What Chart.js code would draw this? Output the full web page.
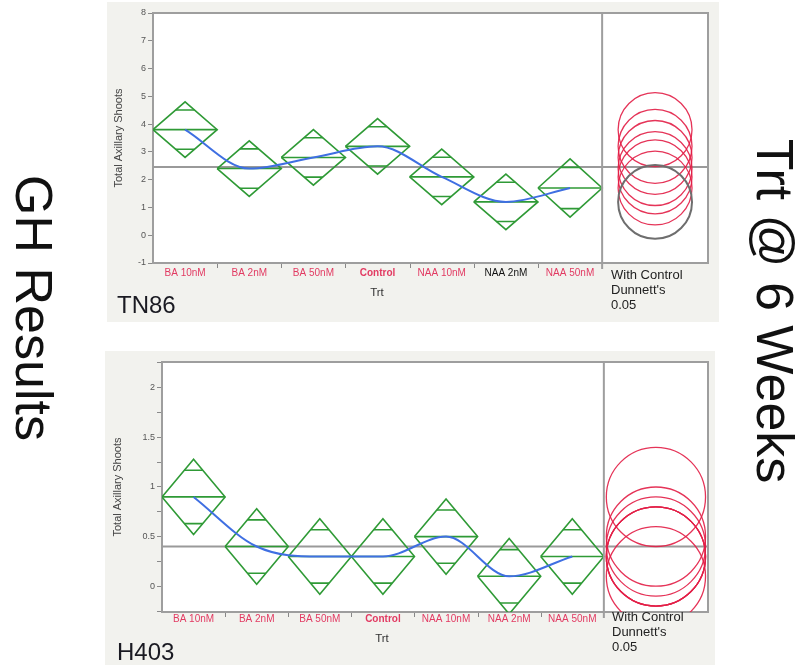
<!DOCTYPE html>
<html>
<head>
<meta charset="utf-8">
<script src="https://cdn.jsdelivr.net/npm/chart.js@4.4.1/dist/chart.umd.min.js"></script>
<style>
body{margin:0;background:#fff;width:801px;height:667px;overflow:hidden;position:relative;font-family:"Liberation Sans",Arial,sans-serif;}
.panel{position:absolute;background:#f2f2ee;}
.panel canvas{position:absolute;left:0;top:0;}
.lbl{position:absolute;color:#222;white-space:nowrap;}
.trt{font-size:11.5px;line-height:14px;transform:translate(-50%,-50%);color:#333;}
.dun{font-size:13px;line-height:15px;}
.name{font-size:24px;line-height:24px;color:#1a1a22;}
.big{position:absolute;font-size:52px;line-height:52px;color:#111;white-space:nowrap;transform:translate(-50%,-50%) rotate(90deg);}
</style>
</head>
<body>

<div class="panel" style="left:107px;top:2px;width:612px;height:320px;">
  <canvas id="chartTN86" width="612" height="320"></canvas>
  <div class="lbl trt" style="left:270px;top:290px;">Trt</div>
  <div class="lbl dun" style="left:504px;top:265px;">With Control<br>Dunnett's<br>0.05</div>
  <div class="lbl name" style="left:10px;top:291px;">TN86</div>
</div>

<div class="panel" style="left:105px;top:351px;width:610px;height:314px;">
  <canvas id="chartH403" width="610" height="314"></canvas>
  <div class="lbl trt" style="left:277px;top:287px;">Trt</div>
  <div class="lbl dun" style="left:507px;top:258px;">With Control<br>Dunnett's<br>0.05</div>
  <div class="lbl name" style="left:12px;top:289px;">H403</div>
</div>

<div class="big" style="left:34px;top:308px;">GH Results</div>
<div class="big" style="left:775px;top:311px;">Trt @ 6 Weeks</div>

<script>
// ---------- Data ----------
const treatments = ["BA 10nM", "BA 2nM", "BA 50nM", "Control", "NAA 10nM", "NAA 2nM", "NAA 50nM"];

// TN86
const meansTN86 = [3.8, 2.4, 2.8, 3.2, 2.1, 1.2, 1.7];
const ciTN86 = [1.0, 1.0, 1.0, 1.0, 1.0, 1.0, 1.05];      // diamond half height
const circleRadiusTN86 = 1.33;
const grandMeanTN86 = 2.46;
const yTicksTN86 = [-1, 0, 1, 2, 3, 4, 5, 6, 7, 8];
const yLabelsTN86 = ["-1", "0", "1", "2", "3", "4", "5", "6", "7", "8"];
const selectedTN86 = 5;   // NAA 2nM (grey circle, black label)

// H403
const meansH403 = [0.9, 0.4, 0.3, 0.3, 0.5, 0.1, 0.3];
const ciH403 = [0.38, 0.38, 0.38, 0.38, 0.38, 0.38, 0.38];
const circleRadiusH403 = 0.5;
const grandMeanH403 = 0.40;
const yTicksH403 = [-0.25, 0, 0.25, 0.5, 0.75, 1, 1.25, 1.5, 1.75, 2, 2.25];
const yLabelsH403 = ["", "0", "", "0.5", "", "1", "", "1.5", "", "2", ""];
const selectedH403 = -1;

const xMax = 8.65;   // 7 categories + comparison circle panel
const controlIndex = treatments.indexOf("Control");

// ---------- Helpers ----------
function diamondPoints(means, half) {
    const pts = [];
    means.forEach((m, i) => {
        const h = half[i];
        pts.push({x:i, y:m}, {x:i+0.5, y:m+h}, {x:i+1, y:m}, {x:i+0.5, y:m-h}, {x:i, y:m}, {x:i, y:null});
    });
    return pts;
}

function meanLinePoints(means) {
    const pts = [];
    means.forEach((m, i) => { pts.push({x:i, y:m}, {x:i+1, y:m}, {x:i+1, y:null}); });
    return pts;
}

function overlapPoints(means, half) {
    const pts = [];
    const k = 1 / Math.SQRT2, w = 0.5 * (1 - k);
    means.forEach((m, i) => {
        [m + half[i]*k, m - half[i]*k].forEach(y => {
            pts.push({x:i+0.5-w, y:y}, {x:i+0.5+w, y:y}, {x:i+0.5+w, y:null});
        });
    });
    return pts;
}

const frameColor = "#9e9e9e";

const decorPlugin = {
    id: "decor",
    beforeDraw(chart) {
        const a = chart.chartArea, ctx = chart.ctx;
        ctx.save();
        ctx.fillStyle = "#ffffff";
        ctx.fillRect(a.left, a.top, a.right - a.left, a.bottom - a.top);
        ctx.restore();
    },
    afterDatasetsDraw(chart, args, opts) {
        const a = chart.chartArea, ctx = chart.ctx;
        const xs = chart.scales.x, ys = chart.scales.y;
        const cx = xs.getPixelForValue(7 + (xMax - 7) / 2);
        ctx.save();
        ctx.beginPath();
        ctx.rect(xs.getPixelForValue(7), a.top, a.right - xs.getPixelForValue(7), a.bottom - a.top);
        ctx.clip();
        const draw = (m, color, lw) => {
            const cy = ys.getPixelForValue(m);
            const r = Math.abs(ys.getPixelForValue(m + opts.radius) - cy);
            ctx.beginPath();
            ctx.arc(cx, cy, r, 0, Math.PI * 2);
            ctx.strokeStyle = color;
            ctx.lineWidth = lw;
            ctx.stroke();
        };
        opts.means.forEach((m, i) => { if (i !== opts.selected) draw(m, "rgba(226,30,70,0.9)", 1.3); });
        if (opts.selected >= 0) draw(opts.means[opts.selected], "#6e6e6e", 2);
        ctx.restore();

        ctx.save();
        ctx.strokeStyle = frameColor;
        ctx.lineWidth = 2;
        ctx.beginPath();
        ctx.moveTo(a.left, a.top); ctx.lineTo(a.right, a.top); ctx.lineTo(a.right, a.bottom);
        const dx = xs.getPixelForValue(7);
        ctx.moveTo(dx, a.top); ctx.lineTo(dx, a.bottom + 6);
        ctx.stroke();
        ctx.lineWidth = 1;
        ctx.strokeStyle = "#888";
        ctx.beginPath();
        for (let i = 1; i < 7; i++) {
            const px = Math.round(xs.getPixelForValue(i)) + 0.5;
            ctx.moveTo(px, a.bottom + 1); ctx.lineTo(px, a.bottom + 5);
        }
        ctx.stroke();
        ctx.restore();
    }
};

function makeChart(id, cfg) {
    const ctx = document.getElementById(id).getContext("2d");
    const line = { showLine: true, pointRadius: 0, pointHoverRadius: 0, fill: false, tension: 0 };
    return new Chart(ctx, {
        type: "scatter",
        data: {
            datasets: [
                Object.assign({}, line, {
                    label: "Means",
                    data: cfg.means.map((m, i) => ({x: i + 0.5, y: m})),
                    borderColor: "#3f6fe2", borderWidth: 2, cubicInterpolationMode: "monotone"
                }),
                Object.assign({}, line, { label: "Diamonds", data: diamondPoints(cfg.means, cfg.ci), borderColor: "#2f9a36", borderWidth: 1.6 }),
                Object.assign({}, line, { label: "Mean lines", data: meanLinePoints(cfg.means), borderColor: "#2f9a36", borderWidth: 1.6 }),
                Object.assign({}, line, { label: "Overlap marks", data: overlapPoints(cfg.means, cfg.ci), borderColor: "#2f9a36", borderWidth: 1.6 }),
                Object.assign({}, line, {
                    label: "Grand mean",
                    data: [{x: 0, y: cfg.grand}, {x: xMax, y: cfg.grand}],
                    borderColor: "#9a9a9a", borderWidth: 2
                })
            ]
        },
        options: {
            responsive: false,
            animation: false,
            events: [],
            layout: { padding: cfg.padding },
            plugins: {
                legend: { display: false },
                tooltip: { enabled: false },
                decor: { means: cfg.means, radius: cfg.circleRadius, selected: cfg.selected }
            },
            scales: {
                x: {
                    type: "linear", min: 0, max: xMax,
                    afterBuildTicks: s => { s.ticks = treatments.map((t, i) => ({value: i + 0.5})); },
                    afterFit: s => { s.height = cfg.xHeight; },
                    grid: { display: false, drawTicks: false },
                    border: { color: frameColor, width: 2 },
                    ticks: {
                        autoSkip: false, maxRotation: 0, padding: cfg.xPad,
                        callback: (v, i) => treatments[i],
                        color: c => c.index === cfg.selected ? "#111111" : "#e23a62",
                        font: c => ({ family: "Liberation Sans", size: 10, weight: c.index === controlIndex ? "bold" : "normal" })
                    }
                },
                y: {
                    min: cfg.yMin, max: cfg.yMax,
                    afterBuildTicks: s => { s.ticks = cfg.yTicks.map(v => ({value: v})); },
                    afterFit: s => { s.width = cfg.yWidth; },
                    grid: { drawOnChartArea: false, tickLength: 5, color: "#8a8a8a" },
                    border: { color: frameColor, width: 2 },
                    ticks: {
                        padding: 2, color: "#555",
                        font: { family: "Liberation Sans", size: 9 },
                        callback: (v, i) => cfg.yLabels[i]
                    },
                    title: {
                        display: true, text: "Total Axillary Shoots", color: "#444",
                        font: { family: "Liberation Sans", size: 11 }, padding: {top: 4, bottom: 2}
                    }
                }
            }
        },
        plugins: [decorPlugin]
    });
}

// ---------- Render ----------
makeChart("chartTN86", {
    means: meansTN86, ci: ciTN86, circleRadius: circleRadiusTN86, grand: grandMeanTN86,
    yMin: -1, yMax: 8, yTicks: yTicksTN86, yLabels: yLabelsTN86, selected: selectedTN86,
    padding: {left: 1, top: 11, right: 11, bottom: 0}, yWidth: 45, xHeight: 59, xPad: 4
});

makeChart("chartH403", {
    means: meansH403, ci: ciH403, circleRadius: circleRadiusH403, grand: grandMeanH403,
    yMin: -0.26, yMax: 2.26, yTicks: yTicksH403, yLabels: yLabelsH403, selected: selectedH403,
    padding: {left: 2, top: 11, right: 7, bottom: 0}, yWidth: 55, xHeight: 53, xPad: 1
});
</script>
</body>
</html>
